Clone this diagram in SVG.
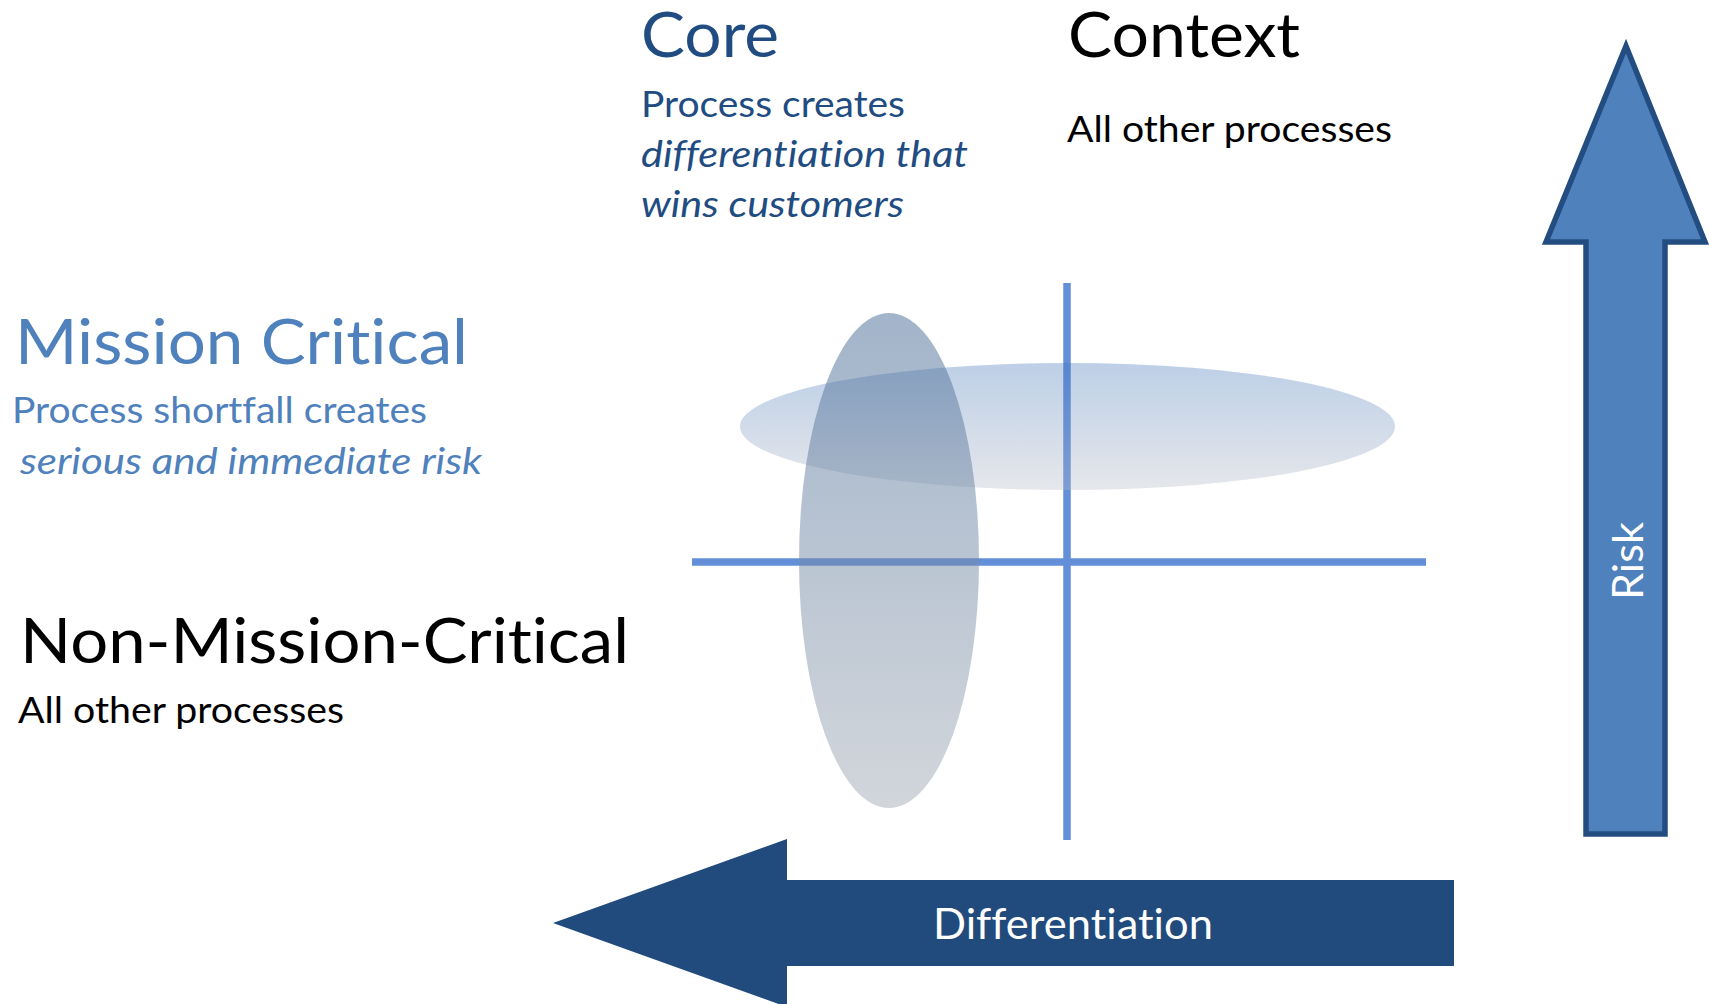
<svg xmlns="http://www.w3.org/2000/svg" width="1709" height="1004" viewBox="0 0 1709 1004">
  <defs>
    <linearGradient id="gH" x1="0" y1="0" x2="0" y2="1">
      <stop offset="0" stop-color="#4276BA"/>
      <stop offset="1" stop-color="#B5BAC5"/>
    </linearGradient>
    <linearGradient id="gV" x1="0" y1="0" x2="0" y2="1">
      <stop offset="0" stop-color="#466A96"/>
      <stop offset="1" stop-color="#A5ADB7"/>
    </linearGradient>
    <style>
      text { font-family: Lato, "Open Sans", "Liberation Sans", sans-serif; font-variant-ligatures: none; font-feature-settings: "liga" 0, "clig" 0; }
      .head { font-size: 62px; }
      .body { font-size: 37.5px; }
      .it { font-style: italic; }
      .dark { fill: #214C82; }
      .mid { fill: #4F81BD; }
      .blk { fill: #000000; }
      .axis { stroke: #628FD8; stroke-width: 7.5; fill: none; }
      .arrowTxt { font-size: 42px; fill: #FFFFFF; }
    </style>
  </defs>
  <rect width="1709" height="1004" fill="#FFFFFF"/>

  <g id="connectors">
    <line class="axis" x1="1067" y1="283" x2="1067" y2="840"/>
    <line class="axis" x1="692" y1="562" x2="1426" y2="562"/>
  </g>

  <g id="context-ellipse">
    <ellipse cx="1067.5" cy="426.5" rx="327.5" ry="63.5" fill="url(#gH)" fill-opacity="0.35"/>
  </g>
  <g id="core-ellipse">
    <ellipse cx="889" cy="560.5" rx="90" ry="247.5" fill="url(#gV)" fill-opacity="0.5"/>
  </g>

  <g id="core">
    <text class="head dark" x="641" y="57" textLength="138" lengthAdjust="spacingAndGlyphs">Core</text>
    <text class="body dark" x="641" y="117" textLength="264" lengthAdjust="spacingAndGlyphs">Process creates</text>
    <text class="body dark it" x="641" y="167" textLength="327" lengthAdjust="spacingAndGlyphs">differentiation that</text>
    <text class="body dark it" x="641" y="217" textLength="263" lengthAdjust="spacingAndGlyphs">wins customers</text>
  </g>

  <g id="context">
    <text class="head blk" x="1068" y="57" textLength="232" lengthAdjust="spacingAndGlyphs">Context</text>
    <text class="body blk" x="1067" y="142" textLength="325" lengthAdjust="spacingAndGlyphs">All other processes</text>
  </g>

  <g id="mission-critical">
    <text class="head mid" x="15" y="364" textLength="453" lengthAdjust="spacingAndGlyphs">Mission Critical</text>
    <text class="body mid" x="12" y="423" textLength="415" lengthAdjust="spacingAndGlyphs">Process shortfall creates</text>
    <text class="body mid it" x="20" y="474" textLength="462" lengthAdjust="spacingAndGlyphs">serious and immediate risk</text>
  </g>

  <g id="non-mission-critical">
    <text class="head blk" x="20" y="663" textLength="609" lengthAdjust="spacingAndGlyphs">Non-Mission-Critical</text>
    <text class="body blk" x="18" y="723" textLength="326" lengthAdjust="spacingAndGlyphs">All other processes</text>
  </g>

  <g id="risk-arrow">
    <polygon points="1626,46 1705,242 1665,242 1665,834 1586,834 1586,242 1546,242" fill="#4F81BD" stroke="#234D80" stroke-width="5.5" stroke-linejoin="miter"/>
    <text class="arrowTxt" x="1643" y="561" text-anchor="middle" transform="rotate(-90 1643 561)" textLength="78" lengthAdjust="spacingAndGlyphs">Risk</text>
  </g>

  <g id="differentiation-arrow">
    <polygon points="553,923 787,839 787,880 1454,880 1454,966 787,966 787,1007" fill="#214A7D"/>
    <text class="arrowTxt" x="1073" y="939" text-anchor="middle" textLength="280" lengthAdjust="spacingAndGlyphs">Differentiation</text>
  </g>
</svg>
